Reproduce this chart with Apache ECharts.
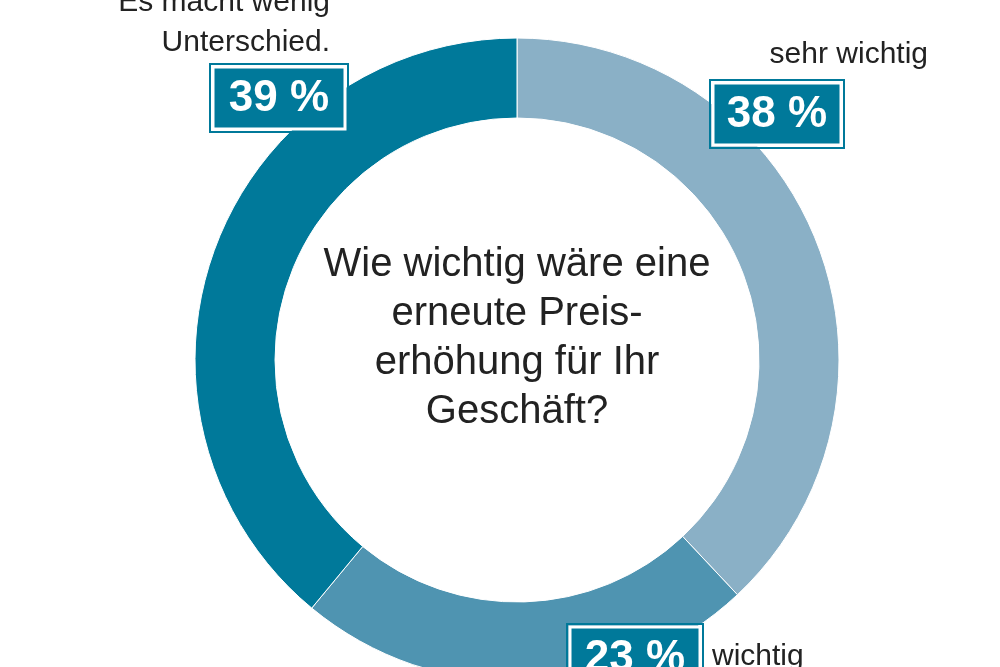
<!DOCTYPE html>
<html>
<head>
<meta charset="utf-8">
<script src="https://cdn.jsdelivr.net/npm/echarts@6/dist/echarts.min.js"></script>
<style>html,body{margin:0;padding:0;background:#fff}#chart{width:1000px;height:667px}</style>
</head>
<body>
<div id="chart"></div>
<script>
var names = ['sehr wichtig', 'wichtig', 'Es macht wenig\nUnterschied.'];
var values = [38, 23, 39];
var colors = ['#8ab0c6', '#4f94b1', '#00799a'];

var chart = echarts.init(document.getElementById('chart'));

// Boxen mit Prozentwert und Beschriftung daneben
var boxPos = [[713, 83, 128], [570, 627, 130], [213, 67, 132]];
var namePos = [[928, 55, 'right'], [712, 657, 'left'], [330, 23, 'right']];
var graphics = [];
for (let i = 0; i < values.length; i++) {
  var b = boxPos[i];
  graphics.push({
    type: 'rect', z: 100, shape: { x: b[0], y: b[1], width: b[2], height: 62 },
    style: { fill: '#00799a', stroke: '#ffffff', lineWidth: 3 }
  });
  graphics.push({
    type: 'rect', z: 100, shape: { x: b[0] - 3, y: b[1] - 3, width: b[2] + 6, height: 68 },
    style: { fill: 'none', stroke: '#00799a', lineWidth: 2 }
  });
  graphics.push({
    type: 'text', z: 101, x: b[0] + b[2] / 2, y: b[1] + 32,
    style: { text: values[i] + ' %', fill: '#fff', font: 'bold 44px "Liberation Sans Narrow", "Liberation Sans", Arial', textAlign: 'center', textVerticalAlign: 'middle' }
  });
  var n = namePos[i];
  graphics.push({
    type: 'text', z: 101, x: n[0], y: n[1],
    style: { text: names[i], fill: '#222', font: '30px "Liberation Sans", Arial', textAlign: n[2], textVerticalAlign: 'middle', lineHeight: 40 }
  });
}
graphics.push({
  type: 'text', z: 101, x: 517, y: 338,
  style: {
    text: 'Wie wichtig wäre eine\nerneute Preis-\nerhöhung für Ihr\nGeschäft?',
    fill: '#222', font: '40px "Liberation Sans", Arial', textAlign: 'center', textVerticalAlign: 'middle', lineHeight: 49
  }
});

var option = {
  animation: false,
  color: colors,
  series: [{
    type: 'pie',
    z: 1,
    center: [517, 360],
    radius: [242, 322],
    startAngle: 90,
    clockwise: true,
    label: { show: false },
    itemStyle: { borderColor: '#fff', borderWidth: 1 },
    data: values.map(function (v, i) { return { value: v, name: names[i] }; })
  }],
  graphic: graphics
};

chart.setOption(option);
</script>
</body>
</html>
